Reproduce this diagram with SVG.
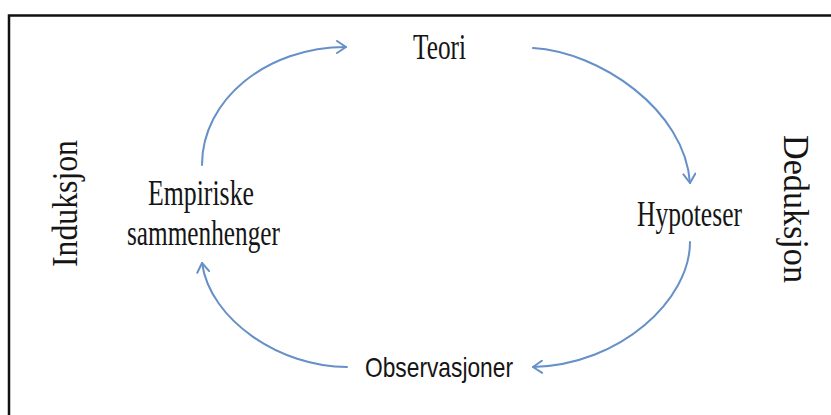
<svg xmlns="http://www.w3.org/2000/svg" width="831" height="415" viewBox="0 0 831 415">
<style>
.serif{font-family:"Liberation Serif","Times New Roman",serif;font-size:35px;fill:#151515;text-anchor:middle}
.sans{font-family:"Liberation Sans",Arial,sans-serif;font-size:28px;fill:#151515;text-anchor:middle}
.side{font-family:"Liberation Serif","Times New Roman",serif;font-size:35px;fill:#151515}
.arc{fill:none;stroke:#6690c8;stroke-width:2;stroke-linecap:round}
</style>
<defs>
<marker id="ah" viewBox="0 0 12 14" refX="11" refY="7" markerWidth="12" markerHeight="14" markerUnits="userSpaceOnUse" orient="auto">
<path d="M2,1 L11,7 L2,13" fill="none" stroke="#6690c8" stroke-width="2" stroke-linecap="round" stroke-linejoin="round"/>
</marker>
</defs>
<rect x="0" y="0" width="831" height="415" fill="#ffffff"/>
<rect x="9" y="15.5" width="900" height="500" fill="none" stroke="#111" stroke-width="2.5"/>
<g id="connectors">
<path class="arc" d="M202,165 C202,99.8 266.5,47 346,47" marker-end="url(#ah)"/>
<path class="arc" d="M533,48 C600,52 685,110 690,183" marker-end="url(#ah)"/>
<path class="arc" d="M690,242 C690,300 620,365 533,367" marker-end="url(#ah)"/>
<path class="arc" d="M347,367 C280,367 210,320 202,263" marker-end="url(#ah)"/>
</g>
<g id="teori"><text class="serif" x="439.5" y="59" textLength="53" lengthAdjust="spacingAndGlyphs">Teori</text></g>
<g id="hypoteser"><text class="serif" x="689.5" y="226" textLength="105" lengthAdjust="spacingAndGlyphs">Hypoteser</text></g>
<g id="observasjoner"><text class="sans" x="439" y="377" textLength="148" lengthAdjust="spacingAndGlyphs">Observasjoner</text></g>
<g id="empiriske">
<text class="serif" x="201" y="205" textLength="106" lengthAdjust="spacingAndGlyphs">Empiriske</text>
<text class="serif" x="203.5" y="245" textLength="153" lengthAdjust="spacingAndGlyphs">sammenhenger</text>
</g>
<g id="induksjon"><text class="side" transform="translate(77,267) rotate(-90)" x="0" y="0" textLength="127" lengthAdjust="spacingAndGlyphs">Induksjon</text></g>
<g id="deduksjon"><text class="side" transform="translate(784,135) rotate(90)" x="0" y="0" textLength="148" lengthAdjust="spacingAndGlyphs">Deduksjon</text></g>
</svg>
